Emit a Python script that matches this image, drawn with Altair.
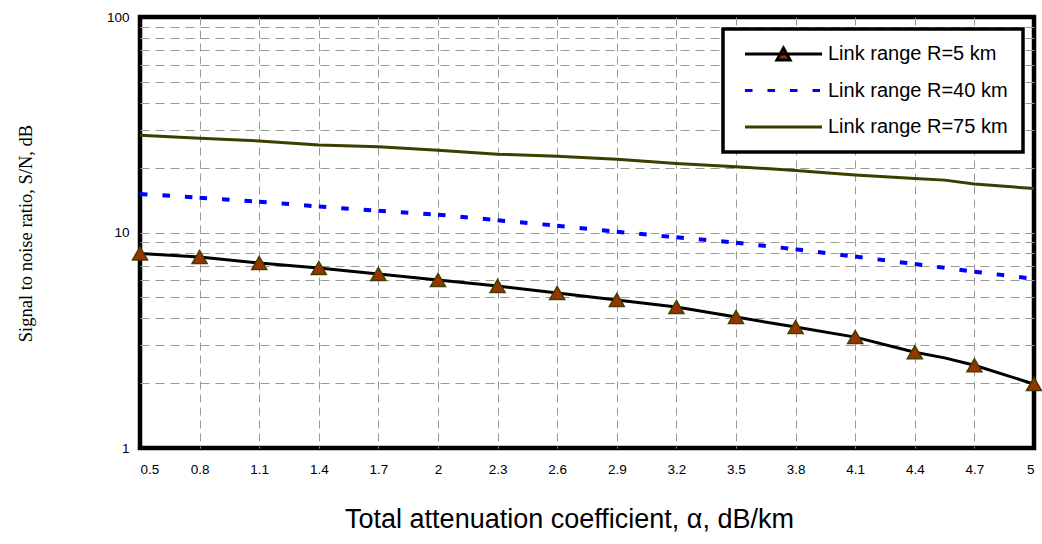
import altair as alt
import pandas as pd

# ---- data ----
alpha = [0.5, 0.8, 1.1, 1.4, 1.7, 2.0, 2.3, 2.6, 2.9, 3.2, 3.5, 3.8, 4.1, 4.4, 4.7, 5.0]
alpha_fine = [0.5, 0.8, 1.1, 1.4, 1.7, 2.0, 2.3, 2.6, 2.9, 3.2, 3.5, 3.8, 4.1, 4.4, 4.55, 4.7, 5.0]
snr_r5 = [8.0, 7.7, 7.22, 6.84, 6.42, 6.02, 5.65, 5.24, 4.86, 4.51, 4.05, 3.64, 3.27, 2.78, 2.62, 2.42, 1.98]
snr_r40 = [15.1, 14.5, 13.9, 13.2, 12.6, 12.1, 11.4, 10.75, 10.08, 9.5, 8.97, 8.36, 7.73, 7.14, 6.58, 6.09]
snr_r75 = [28.3, 27.4, 26.6, 25.5, 25.0, 24.1, 23.1, 22.6, 21.9, 20.9, 20.2, 19.4, 18.5, 17.8, 17.5, 16.8, 16.0]
series = ["Link range R=5 km", "Link range R=40 km", "Link range R=75 km"]
y_ticks = [1, 2, 3, 4, 5, 6, 7, 8, 9, 10, 20, 30, 40, 50, 60, 70, 80, 90, 100]
y_labels = [1, 10, 100]

x_title = "Total attenuation coefficient, \u03b1, dB/km"
y_title = "Signal to noise ratio, S/N, dB"

SANS = "Liberation Sans, Arial, sans-serif"
SERIF = "Liberation Serif, Times New Roman, serif"

df5 = pd.DataFrame({"alpha": alpha_fine, "snr": snr_r5})
df75 = pd.DataFrame({"alpha": alpha_fine, "snr": snr_r75})
rows = []
for i in range(len(alpha) - 1):
    for j in (i, i + 1):
        rows.append({"alpha": alpha[j], "snr": snr_r40[j], "seg": i})
df40 = pd.DataFrame(rows)

x_edge = "datum.value <= %s || datum.value >= %s" % (alpha[0], alpha[-1])
y_edge = "datum.value <= %s || datum.value >= %s" % (y_ticks[0], y_ticks[-1])

x_enc = alt.X(
    "alpha:Q",
    scale=alt.Scale(domain=[alpha[0], alpha[-1]], nice=False, zero=False),
    axis=alt.Axis(
        values=alpha, format="~g", title=x_title, grid=True, gridDash=[8, 5],
        gridColor="#999999", gridWidth=1,
        gridOpacity={"condition": {"test": x_edge, "value": 0}, "value": 1},
        ticks=False, domain=False,
        labelPadding=14, labelFont=SANS, labelFontSize=13.5, labelColor="black",
        titleFont=SANS, titleFontSize=27, titleFontWeight="normal", titleColor="black",
        titleX=429, titleY=79, titleAlign="center", titleBaseline="alphabetic",
    ),
)
y_enc = alt.Y(
    "snr:Q",
    scale=alt.Scale(type="log", domain=[1, 100], nice=False),
    axis=alt.Axis(
        values=y_ticks, format="~g",
        labelExpr="indexof(" + str(y_labels) + ", datum.value) >= 0 ? datum.label : ''",
        title=y_title, grid=True, gridDash=[9, 6], gridColor="#999999", gridWidth=1,
        gridOpacity={"condition": {"test": y_edge, "value": 0}, "value": 1},
        ticks=False, domain=False, labelPadding=11, labelFont=SANS, labelFontSize=13.5,
        labelColor="black", titleFont=SERIF, titleFontSize=18.5, titleFontWeight="normal",
        titleColor="black", titleX=-109, titleY=216, titleAlign="center",
        titleBaseline="alphabetic", titleAngle=270,
    ),
)

line5 = alt.Chart(df5).mark_line(color="black", strokeWidth=3).encode(x=x_enc, y=y_enc)
line75 = alt.Chart(df75).mark_line(color="#3d3d00", strokeWidth=3).encode(x=x_enc, y=y_enc)
line40 = alt.Chart(df40).mark_line(
    color="#0000ff", strokeWidth=4, strokeDash=[7.5, 15], strokeCap="butt"
).encode(x=x_enc, y=y_enc, detail="seg:N")
markers = alt.Chart(df5).transform_filter(
    alt.FieldOneOfPredicate(field="alpha", oneOf=alpha)
).mark_point(
    shape="triangle-up", filled=True, fill="#993300", stroke="#404000",
    strokeWidth=1.5, size=225, opacity=1
).encode(x=x_enc, y=y_enc)

path_tri = "M-1,0H1M-0.17,0.155L0,-0.155L0.17,0.155Z"
path_line = "M-1,0H1"

leg = alt.Legend(
    title=None, orient="none", legendX=583, legendY=12, symbolSize=5929,
    clipHeight=20, rowPadding=16.5, labelFont=SANS, labelFontSize=20,
    labelColor="black", labelOffset=4.5, symbolOffset=5.5, padding=15,
    strokeColor="black", fillColor="white", symbolStrokeWidth=3,
    labelLimit=400, symbolOpacity=1,
)

legend_layer = alt.Chart(pd.DataFrame({"series": series})).transform_filter("false").mark_point(
    filled=False, strokeWidth=3, opacity=1
).encode(
    stroke=alt.Stroke("series:N", scale=alt.Scale(domain=series, range=["black", "#0000ff", "#3d3d00"]), legend=leg),
    fill=alt.Fill("series:N", scale=alt.Scale(domain=series, range=["#993300", "transparent", "transparent"]), legend=leg),
    shape=alt.Shape("series:N", scale=alt.Scale(domain=series, range=[path_tri, path_line, path_line]), legend=leg),
    strokeDash=alt.StrokeDash("series:N", scale=alt.Scale(domain=series, range=[[1, 0], [7.5, 15], [1, 0]]), legend=leg),
)

chart = alt.layer(line75, line40, line5, markers, legend_layer).properties(
    width=894, height=431,
    padding={"left": 140, "top": 17, "right": 8, "bottom": 96},
    autosize=alt.AutoSizeParams(type="none"),
    background="white",
).configure_view(stroke="black", strokeWidth=4.5).configure_legend(strokeWidth=3.5)

chart.save("out.html", embed_options={"renderer": "svg", "actions": False})
